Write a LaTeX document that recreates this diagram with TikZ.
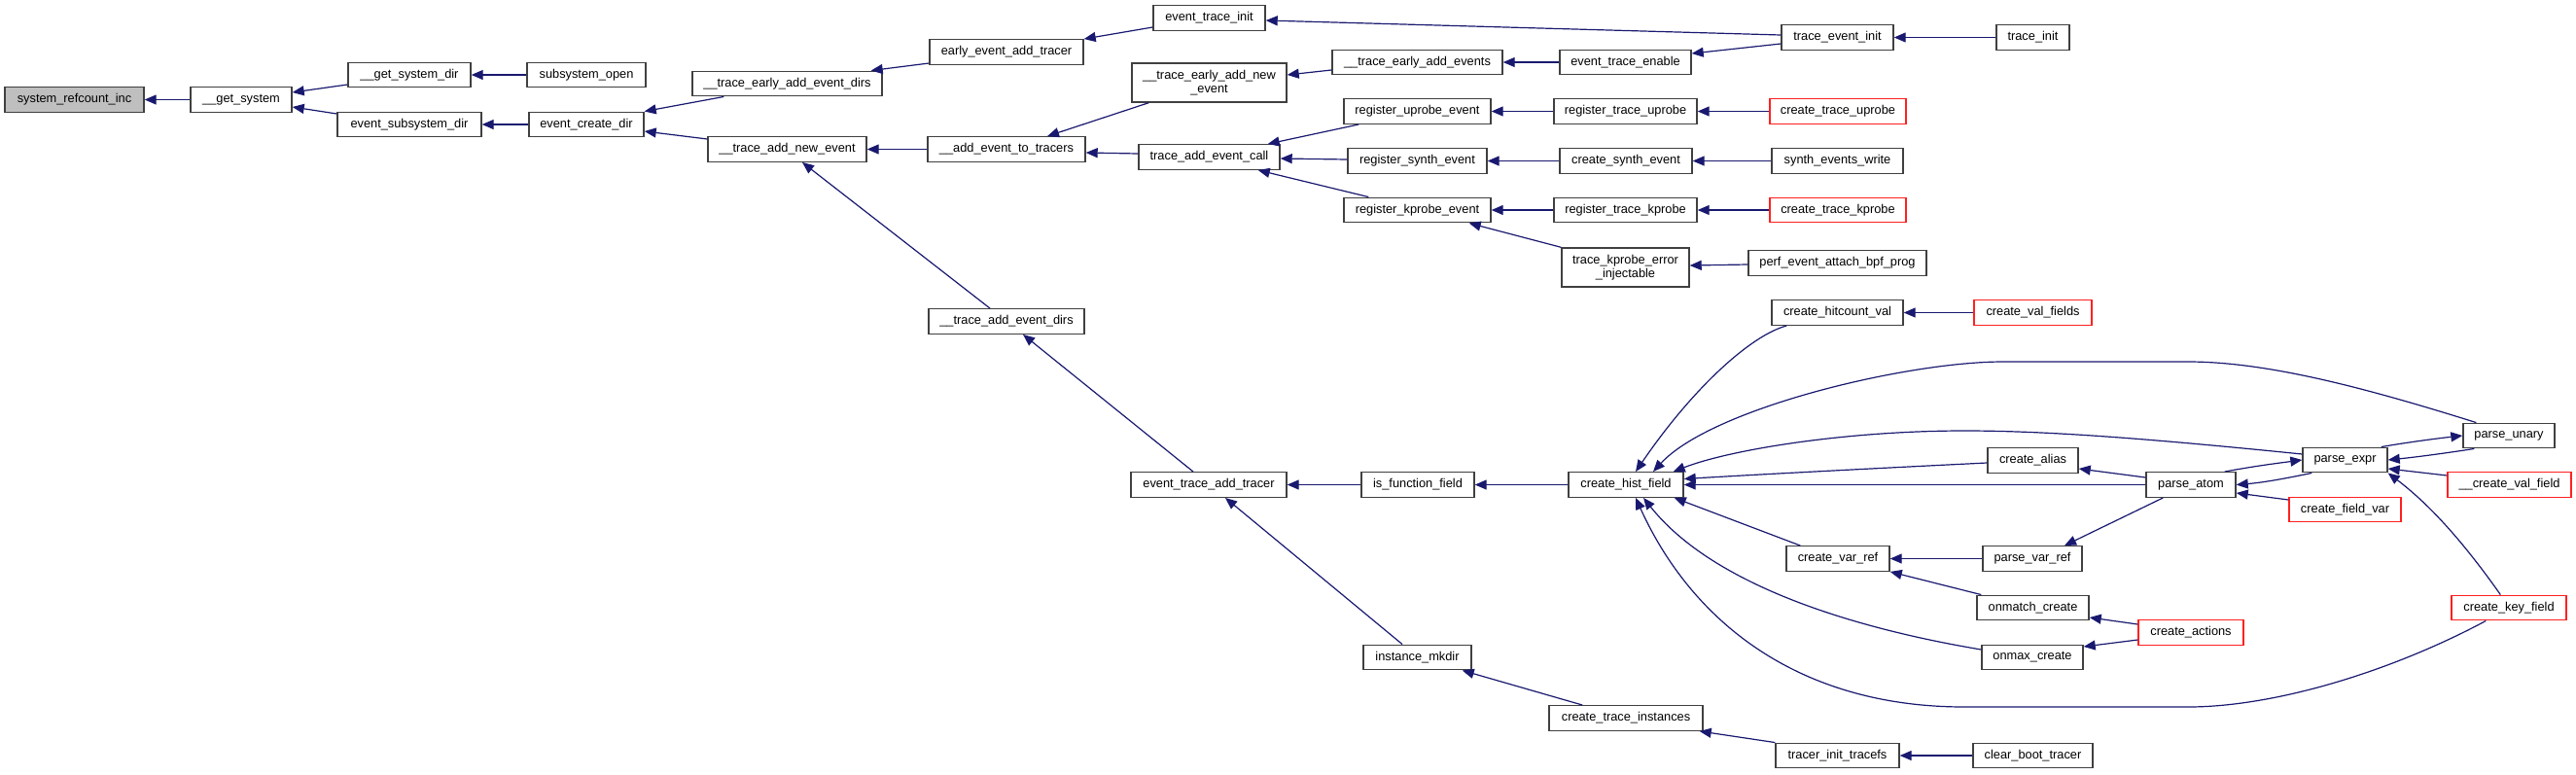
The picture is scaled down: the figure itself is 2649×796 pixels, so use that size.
\documentclass[tikz,border=0pt]{standalone}
\usepackage{fontspec}
\setmainfont{Liberation Sans}
\usetikzlibrary{arrows.meta}
\definecolor{edgecol}{HTML}{191970}
\definecolor{nodeborder}{HTML}{404040}
\definecolor{redborder}{HTML}{FF2020}
\definecolor{rootfill}{HTML}{BFBFBF}
\begin{document}
\begin{tikzpicture}[x=1pt,y=-1pt,
  fn/.style={draw=nodeborder, line width=1.4pt, fill=white, inner sep=0pt,
    minimum height=25.5pt, text=black, align=center,
    font=\fontsize{12.8}{14.5}\selectfont},
  fnred/.style={fn, draw=redborder},
  fnroot/.style={fn, fill=rootfill},
  two/.style={minimum height=40pt},
  edge/.style={draw=edgecol, line width=1.2pt, -{Triangle[length=12pt,width=10pt]}, edgecol}]
\fill[white] (0,0) rectangle (2649,796);
\useasboundingbox (0,0) rectangle (2649,796);

% nodes
\node[fnroot, minimum width=143pt] (refcount) at (76.5,102.5) {system\_refcount\_inc};
\node[fn, minimum width=104pt] (getsys) at (248,102.5) {\_\_get\_system};
\node[fn, minimum width=126pt] (getsysdir) at (421,77) {\_\_get\_system\_dir};
\node[fn, minimum width=148pt] (evsubsysdir) at (421,128) {event\_subsystem\_dir};
\node[fn, minimum width=122pt] (subsysopen) at (603,77) {subsystem\_open};
\node[fn, minimum width=118pt] (evcreatedir) at (603,128) {event\_create\_dir};
\node[fn, minimum width=195pt] (teaed) at (809.5,86) {\_\_trace\_early\_add\_event\_dirs};
\node[fn, minimum width=163pt] (tanew) at (809.5,153.5) {\_\_trace\_add\_new\_event};
\node[fn, minimum width=158pt] (eeat) at (1035,53.5) {early\_event\_add\_tracer};
\node[fn, minimum width=115pt] (eti) at (1243.5,18.5) {event\_trace\_init};
\node[fn, two, minimum width=159pt] (tean) at (1243.5,85) {\_\_trace\_early\_add\_new\\\_event};
\node[fn, minimum width=162pt] (aett) at (1035,153.5) {\_\_add\_event\_to\_tracers};
\node[fn, minimum width=145pt] (tace) at (1243.5,161.5) {trace\_add\_event\_call};
\node[fn, minimum width=160pt] (taed) at (1035,330.5) {\_\_trace\_add\_event\_dirs};
\node[fn, minimum width=175pt] (teaev) at (1457.5,64) {\_\_trace\_early\_add\_events};
\node[fn, minimum width=135pt] (ete) at (1671.5,64) {event\_trace\_enable};
\node[fn, minimum width=151pt] (ruprobe) at (1457.5,114.5) {register\_uprobe\_event};
\node[fn, minimum width=147pt] (rtuprobe) at (1671.5,114.5) {register\_trace\_uprobe};
\node[fn, minimum width=143pt] (rsynth) at (1457.5,165.5) {register\_synth\_event};
\node[fn, minimum width=136pt] (csynth) at (1672,165.5) {create\_synth\_event};
\node[fn, minimum width=151pt] (rkprobe) at (1457.5,216) {register\_kprobe\_event};
\node[fn, minimum width=147pt] (rtkprobe) at (1671.5,216) {register\_trace\_kprobe};
\node[fn, two, minimum width=131pt] (tkei) at (1671.5,275) {trace\_kprobe\_error\\\_injectable};
\node[fn, minimum width=115pt] (tei) at (1889.5,38.5) {trace\_event\_init};
\node[fn, minimum width=75pt] (tinit) at (2090.5,38.5) {trace\_init};
\node[fnred, minimum width=140pt] (ctuprobe) at (1890,114.5) {create\_trace\_uprobe};
\node[fn, minimum width=135pt] (sew) at (1889.5,165.5) {synth\_events\_write};
\node[fnred, minimum width=140pt] (ctkprobe) at (1890,216) {create\_trace\_kprobe};
\node[fn, minimum width=183pt] (pebpf) at (1889.5,270.5) {perf\_event\_attach\_bpf\_prog};
\node[fn, minimum width=135pt] (chv) at (1889.5,321.5) {create\_hitcount\_val};
\node[fnred, minimum width=121pt] (cvf) at (2090.5,321.5) {create\_val\_fields};
\node[fn, minimum width=160pt] (etat) at (1243,498.5) {event\_trace\_add\_tracer};
\node[fn, minimum width=116pt] (isff) at (1458,498.5) {is\_function\_field};
\node[fn, minimum width=118pt] (chf) at (1672,498.5) {create\_hist\_field};
\node[fn, minimum width=111pt] (instmkdir) at (1457.5,676) {instance\_mkdir};
\node[fn, minimum width=158pt] (cti) at (1672,738.5) {create\_trace\_instances};
\node[fn, minimum width=93pt] (calias) at (2090.5,473.5) {create\_alias};
\node[fn, minimum width=92pt] (patom) at (2253,498.5) {parse\_atom};
\node[fn, minimum width=106pt] (cvr) at (1890,574.5) {create\_var\_ref};
\node[fn, minimum width=102pt] (pvr) at (2090,574.5) {parse\_var\_ref};
\node[fn, minimum width=115pt] (onmatch) at (2090.5,625) {onmatch\_create};
\node[fn, minimum width=104pt] (onmax) at (2090,676) {onmax\_create};
\node[fnred, minimum width=108pt] (cactions) at (2253,650.5) {create\_actions};
\node[fn, minimum width=127pt] (titf) at (1889.5,777) {tracer\_init\_tracefs};
\node[fn, minimum width=123pt] (cbt) at (2090.5,777) {clear\_boot\_tracer};
\node[fn, minimum width=87pt] (pe) at (2411.5,473) {parse\_expr};
\node[fn, minimum width=94pt] (pu) at (2580,448) {parse\_unary};
\node[fnred, minimum width=127pt] (cvalf) at (2580.5,498.5) {\_\_create\_val\_field};
\node[fnred, minimum width=115pt] (cfv) at (2411.5,524) {create\_field\_var};
\node[fnred, minimum width=118pt] (ckf) at (2580,625) {create\_key\_field};

% edges (tail = caller, head = callee)
\draw[edge] (getsys.west) -- (refcount.east);
\draw[edge] ([yshift=-10pt]getsysdir.west) -- ([yshift=7.5pt]getsys.east);
\draw[edge] ([yshift=11pt]evsubsysdir.west) -- ([yshift=-7.5pt]getsys.east);
\draw[edge] (subsysopen.west) -- (getsysdir.east);
\draw[edge] (evcreatedir.west) -- (evsubsysdir.east);
\draw[edge] ([xshift=33pt]teaed.south west) -- (evcreatedir.north east);
\draw[edge] ([yshift=10.5pt]tanew.west) -- ([yshift=-7pt]evcreatedir.east);
\draw[edge] ([yshift=-11.5pt]eeat.west) -- ([xshift=-12pt]teaed.north east);
\draw[edge] ([yshift=-9.5pt]eti.west) -- (eeat.north east);
\draw[edge] ([yshift=2.5pt]tei.west) -- ([yshift=-2.5pt]eti.east);
\draw[edge] (aett.west) -- (tanew.east);
\draw[edge] ([xshift=-17pt]taed.north) -- ([xshift=15.5pt]tanew.south);
\draw[edge] ([xshift=-16pt]etat.north) -- ([xshift=17pt]taed.south);
\draw[edge] ([xshift=18pt]tean.south west) -- ([xshift=42pt]aett.north);
\draw[edge] ([yshift=3.5pt]tace.west) -- ([yshift=-3.5pt]aett.east);
\draw[edge] ([yshift=-8pt]teaev.west) -- ([yshift=8pt]tean.east);
\draw[edge] (ete.west) -- (teaev.east);
\draw[edge] ([yshift=-6.5pt]tei.west) -- ([yshift=9pt]ete.east);
\draw[edge] (tinit.west) -- (tei.east);
\draw[edge] ([xshift=16pt]ruprobe.south west) -- ([xshift=-13pt]tace.north east);
\draw[edge] ([yshift=1.5pt]rsynth.west) -- ([yshift=-1.5pt]tace.east);
\draw[edge] ([xshift=26pt]rkprobe.north west) -- ([xshift=-23pt]tace.south east);
\draw[edge] (rtuprobe.west) -- (ruprobe.east);
\draw[edge] (csynth.west) -- (rsynth.east);
\draw[edge] (rtkprobe.west) -- (rkprobe.east);
\draw[edge] (tkei.north west) -- ([xshift=-23pt]rkprobe.south east);
\draw[edge] (ctuprobe.west) -- (rtuprobe.east);
\draw[edge] (sew.west) -- (csynth.east);
\draw[edge] (ctkprobe.west) -- (rtkprobe.east);
\draw[edge] ([yshift=-1.5pt]pebpf.west) -- ([yshift=2pt]tkei.east);
\draw[edge] (isff.west) -- (etat.east);
\draw[edge] ([xshift=-15.5pt]instmkdir.north) -- ([xshift=17pt]etat.south);
\draw[edge] (chf.west) -- (isff.east);
\draw[edge] ([xshift=35pt]cti.north west) -- ([xshift=-10pt]instmkdir.south east);
\draw[edge] (titf.north west) -- ([xshift=-4pt]cti.south east);
\draw[edge] (cbt.west) -- (titf.east);
\draw[edge] ([xshift=16pt]chv.south west) .. controls (1800,345) and (1740,400) .. ([xshift=10pt]chf.north);
\draw[edge] (cvf.west) -- (chv.east);
\draw[edge] ([xshift=14pt]pu.north west) .. controls (2430,398) and (2330,372) .. (2250,372) -- (2060,372) .. controls (1960,372) and (1760,420) .. ([xshift=28pt]chf.north);
\draw[edge] ([yshift=6pt]pe.west) .. controls (2200,450) and (2100,443) .. (2020,443) .. controls (1900,443) and (1780,462) .. ([xshift=-11pt]chf.north east);
\draw[edge] ([yshift=-2.5pt]calias.west) .. controls (1900,483) and (1790,489) .. ([yshift=6pt]chf.east);
\draw[edge] (patom.west) -- (chf.east);
\draw[edge] ([xshift=15pt]cvr.north west) -- ([xshift=-10pt]chf.south east);
\draw[edge] ([yshift=8pt]onmax.west) .. controls (1900,645) and (1760,600) .. ([xshift=18pt]chf.south);
\draw[edge] ([xshift=36pt]ckf.south west) .. controls (2460,690) and (2340,727) .. (2250,727) -- (2020,727) .. controls (1850,727) and (1740,640) .. ([xshift=10pt]chf.south);
\draw[edge] ([yshift=7.5pt]patom.west) -- ([yshift=-8.5pt]calias.east);
\draw[edge] (pvr.west) -- (cvr.east);
\draw[edge] ([xshift=18pt]patom.south west) -- ([xshift=33pt]pvr.north);
\draw[edge] ([xshift=5pt]onmatch.north west) -- (cvr.south east);
\draw[edge] ([yshift=8.5pt]cactions.west) -- ([yshift=-10pt]onmatch.east);
\draw[edge] ([yshift=-7.5pt]cactions.west) -- ([yshift=11pt]onmax.east);
\draw[edge] ([xshift=-12pt]patom.north east) .. controls (2320,479) and (2345,476) .. (pe.west);
\draw[edge] ([xshift=10pt]pe.south west) .. controls (2355,491) and (2330,496) .. (patom.east);
\draw[edge] ([yshift=10pt]cfv.west) -- ([yshift=-8.5pt]patom.east);
\draw[edge] ([xshift=-7pt]pe.north east) .. controls (2475,455) and (2505,451) .. (pu.west);
\draw[edge] ([xshift=12pt]pu.south west) .. controls (2515,466) and (2485,470) .. (pe.east);
\draw[edge] ([yshift=9.5pt]cvalf.west) -- ([yshift=-9pt]pe.east);
\draw[edge] ([xshift=51pt]ckf.north west) .. controls (2535,560) and (2500,520) .. (pe.south east);
\end{tikzpicture}
\end{document}
